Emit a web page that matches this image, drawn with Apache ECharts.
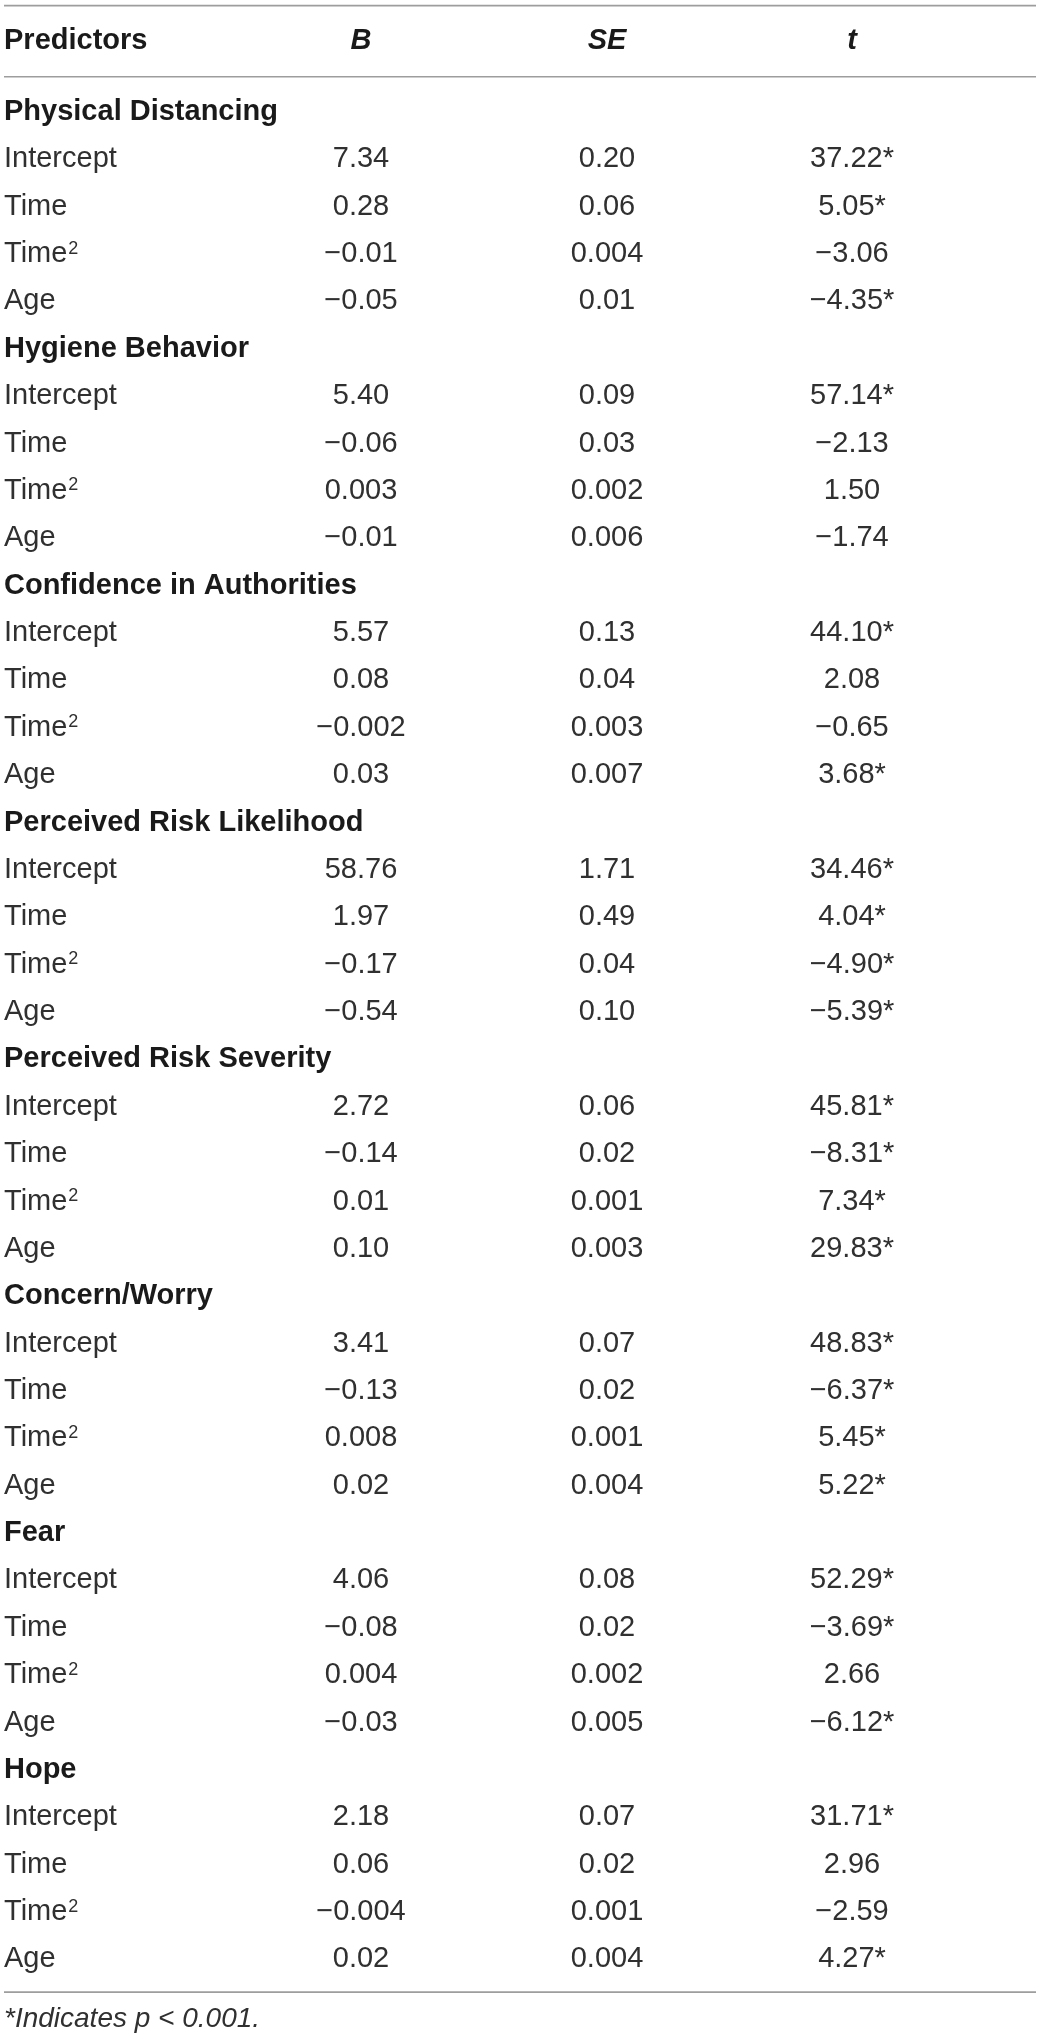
<!DOCTYPE html>
<html>
<head>
<meta charset="UTF-8">
<title>Growth model predictors</title>
<script src="https://cdn.jsdelivr.net/npm/echarts@6/dist/echarts.min.js"></script>
<style>
  body { margin: 0; background: #fff; }
  #main { width: 1040px; height: 2042px; }
</style>
</head>
<body>
<div id="main"></div>
<script type="text/javascript">
	// table content
	var columns = ['Predictors', 'B', 'SE', 't'];
	var groups = ['Physical Distancing', 'Hygiene Behavior', 'Confidence in Authorities',
		'Perceived Risk Likelihood', 'Perceived Risk Severity', 'Concern/Worry', 'Fear', 'Hope'];
	// ^2 marks a superscript
	var predictors = ['Intercept', 'Time', 'Time^2', 'Age'];
	var bValues = [
		['7.34', '0.28', '-0.01', '-0.05'],
		['5.40', '-0.06', '0.003', '-0.01'],
		['5.57', '0.08', '-0.002', '0.03'],
		['58.76', '1.97', '-0.17', '-0.54'],
		['2.72', '-0.14', '0.01', '0.10'],
		['3.41', '-0.13', '0.008', '0.02'],
		['4.06', '-0.08', '0.004', '-0.03'],
		['2.18', '0.06', '-0.004', '0.02']
	];
	var seValues = [
		['0.20', '0.06', '0.004', '0.01'],
		['0.09', '0.03', '0.002', '0.006'],
		['0.13', '0.04', '0.003', '0.007'],
		['1.71', '0.49', '0.04', '0.10'],
		['0.06', '0.02', '0.001', '0.003'],
		['0.07', '0.02', '0.001', '0.004'],
		['0.08', '0.02', '0.002', '0.005'],
		['0.07', '0.02', '0.001', '0.004']
	];
	var tValues = [
		['37.22*', '5.05*', '-3.06', '-4.35*'],
		['57.14*', '-2.13', '1.50', '-1.74'],
		['44.10*', '2.08', '-0.65', '3.68*'],
		['34.46*', '4.04*', '-4.90*', '-5.39*'],
		['45.81*', '-8.31*', '7.34*', '29.83*'],
		['48.83*', '-6.37*', '5.45*', '5.22*'],
		['52.29*', '-3.69*', '2.66', '-6.12*'],
		['31.71*', '2.96', '-2.59', '4.27*']
	];
	var footnote = '*Indicates p < 0.001.';

	// layout (pixels / row units)
	var W = 1040, H = 2042;
	var FIRST_ROW = 112, PITCH = 47.37;
	var colX = [4, 361, 607, 852];
	var headerRow = -1.5;
	var ruleRows = [-2.245, -0.745, 39.69];
	var noteRow = 40.27;

	var FONT = '"Liberation Sans", Arial, sans-serif';
	var styles = {
		head: { fontWeight: 'bold', fontStyle: 'normal', fontSize: 29, fill: '#1a1a1a' },
		headItalic: { fontWeight: 'bold', fontStyle: 'italic', fontSize: 29, fill: '#1a1a1a' },
		group: { fontWeight: 'bold', fontStyle: 'normal', fontSize: 29, fill: '#1a1a1a' },
		cell: { fontWeight: 'normal', fontStyle: 'normal', fontSize: 29, fill: '#303030' },
		note: { fontWeight: 'normal', fontStyle: 'italic', fontSize: 28, fill: '#303030' }
	};

	function fmt(s) {
		return s.replace(/^-/, '\u2212');
	}

	var cells = [];
	for (var i = 0; i < columns.length; i++) {
		cells.push({ x: colX[i], row: headerRow, text: columns[i],
			kind: i == 0 ? 'head' : 'headItalic', align: i == 0 ? 'left' : 'center' });
	}
	for (var g = 0; g < groups.length; g++) {
		var base = g * 5;
		cells.push({ x: colX[0], row: base, text: groups[g], kind: 'group', align: 'left' });
		for (var j = 0; j < predictors.length; j++) {
			var r = base + 1 + j;
			cells.push({ x: colX[0], row: r, text: predictors[j], kind: 'cell', align: 'left' });
			cells.push({ x: colX[1], row: r, text: fmt(bValues[g][j]), kind: 'cell', align: 'center' });
			cells.push({ x: colX[2], row: r, text: fmt(seValues[g][j]), kind: 'cell', align: 'center' });
			cells.push({ x: colX[3], row: r, text: fmt(tValues[g][j]), kind: 'cell', align: 'center' });
		}
	}
	cells.push({ x: colX[0], row: noteRow, text: footnote, kind: 'note', align: 'left' });

	function richText(t) {
		var k = t.indexOf('^');
		if (k < 0) return t;
		return '{n|' + t.substring(0, k) + '}{sup|' + t.substring(k + 1) + '}';
	}

	var myChart = echarts.init(document.getElementById('main'));
	var option = {
		animation: false,
		backgroundColor: '#ffffff',
		grid: { left: 0, right: 0, top: 0, bottom: 0, containLabel: false },
		xAxis: { type: 'value', min: 0, max: W, show: false, splitLine: { show: false } },
		yAxis: {
			type: 'value', inverse: true, show: false, splitLine: { show: false },
			min: -FIRST_ROW / PITCH, max: (H - FIRST_ROW) / PITCH
		},
		series: [{
			type: 'custom',
			silent: true,
			clip: false,
			data: ruleRows.map(function (r) { return [0, r]; }),
			renderItem: function (params, api) {
				var a = api.coord([4, api.value(1)]);
				var b = api.coord([1036, api.value(1)]);
				return {
					type: 'line',
					shape: { x1: a[0], y1: a[1], x2: b[0], y2: b[1] },
					style: { stroke: '#9d9d9d', lineWidth: 1.6 }
				};
			}
		}, {
			type: 'custom',
			silent: true,
			clip: false,
			data: cells.map(function (c) { return [c.x, c.row]; }),
			renderItem: function (params, api) {
				var c = cells[params.dataIndex];
				var p = api.coord([api.value(0), api.value(1)]);
				var s = styles[c.kind];
				var base = {
					fill: s.fill,
					fontFamily: FONT,
					fontSize: s.fontSize,
					fontWeight: s.fontWeight,
					fontStyle: s.fontStyle
				};
				return {
					type: 'text',
					x: p[0],
					y: p[1],
					style: {
						text: richText(c.text),
						fill: s.fill,
						fontFamily: FONT,
						fontSize: s.fontSize,
						fontWeight: s.fontWeight,
						fontStyle: s.fontStyle,
						align: c.align,
						verticalAlign: 'middle',
						rich: {
							n: base,
							sup: {
								fill: s.fill,
								fontFamily: FONT,
								fontSize: 18,
								padding: [0, 0, 11, 1]
							}
						}
					}
				};
			}
		}]
	};
	myChart.setOption(option);
</script>
</body>
</html>
